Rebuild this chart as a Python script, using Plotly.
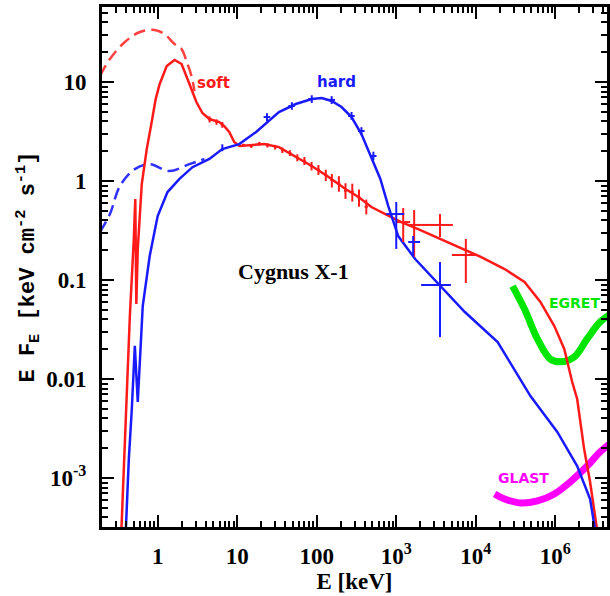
import plotly.graph_objects as go

# ---------------- data (E in keV, E*F_E in keV cm^-2 s^-1) ----------------
soft_E = [0.35, 0.376, 0.398, 0.447, 0.501, 0.523, 0.539, 0.562, 0.631, 0.729, 0.841, 0.944,
          1.06, 1.30, 1.63, 2.0, 2.51, 3.07, 3.65, 4.47, 5.96, 6.88, 7.94, 9.17, 10.6, 15.4,
          21.8, 33.5, 54.6, 86.6, 141, 230, 335, 487, 729, 1155, 1884, 4467, 11550, 23040,
          40970, 64940, 97170, 129600, 163100, 188400, 230400, 273800, 335000]
soft_F = [3.0e-4, 1.23e-3, 5.2e-3, 0.0433, 0.26, 0.658, 0.0573, 0.206, 0.933, 2.1, 3.94, 6.73,
          9.55, 14.5, 16.7, 15.2, 9.55, 6.28, 4.86, 4.23, 3.94, 3.59, 3.13, 2.48, 2.26, 2.31,
          2.36, 2.2, 1.75, 1.42, 1.1, 0.83, 0.69, 0.546, 0.464, 0.385, 0.327, 0.242, 0.171, 0.129,
          0.0955, 0.060, 0.0343, 0.0201, 9.33e-3, 6.28e-3, 1.96e-3, 9.1e-4, 3.0e-4]

soft_unabs_E = [0.188, 0.251, 0.387, 0.596, 0.917, 1.22, 1.63, 2.0, 2.30, 2.66, 2.90]
soft_unabs_F = [11.5, 17.1, 25.4, 32.0, 33.5, 30.5, 24.2, 21.5, 16.3, 11.5, 8.1]

hard_E = [0.398, 0.434, 0.473, 0.516, 0.562, 0.649, 0.794, 1.0, 1.33, 1.88, 2.74, 4.47, 6.49,
          10.6, 17.3, 23.0, 33.5, 54.6, 86.6, 115.5, 154, 205, 274, 365, 487, 631, 794, 1059,
          1728, 3548, 7286, 18840, 48700, 105900, 188400, 273800, 316200]
hard_F = [3.0e-4, 1.56e-3, 4.98e-3, 0.0216, 5.86e-3, 0.0546, 0.175, 0.443, 0.774, 1.05, 1.38,
          1.67, 2.1, 2.36, 3.13, 3.85, 4.98, 6.0, 6.73, 6.89, 6.43, 5.59, 4.43, 2.98, 1.75, 1.05,
          0.559, 0.278, 0.163, 0.0869, 0.0475, 0.0236, 6.73e-3, 2.92e-3, 1.32e-3, 6.14e-4, 3.0e-4]

hard_unabs_E = [0.188, 0.251, 0.335, 0.516, 0.794, 1.41, 2.51, 3.87]
hard_unabs_F = [0.305, 0.464, 0.89, 1.32, 1.48, 1.26, 1.48, 1.67]

# soft-state data points (E, F, E low/high, F low/high)
soft_pt_E = [4.5, 5.5, 6.5, 12, 15, 19, 24, 30, 37, 46, 57, 70, 86, 105, 130, 155, 190, 230, 280,
             340, 420, 1223, 1679, 3548, 7499]
soft_pt_F = [4.2, 3.95, 3.7, 2.30, 2.25, 2.38, 2.30, 2.20, 2.05, 1.92, 1.72, 1.60, 1.42, 1.30,
             1.15, 1.02, 0.95, 0.80, 0.78, 0.68, 0.55, 0.385, 0.36, 0.36, 0.179]
soft_pt_Elo = [4.3, 5.3, 6.2, 11.5, 14.4, 18.2, 23, 29, 35.5, 44, 55, 67, 82, 100, 124, 148, 182,
               220, 268, 325, 400, 1000, 1413, 2054, 5012]
soft_pt_Ehi = [4.7, 5.7, 6.8, 12.5, 15.6, 19.8, 25, 31, 38.5, 48, 59, 73, 90, 110, 136, 162, 198,
               240, 292, 355, 440, 1496, 2054, 5158, 10000]
soft_pt_Flo = [3.9, 3.7, 3.45, 2.22, 2.16, 2.27, 2.18, 2.08, 1.92, 1.79, 1.58, 1.45, 1.28, 1.15,
               1.0, 0.86, 0.78, 0.66, 0.62, 0.55, 0.46, 0.242, 0.171, 0.272, 0.0933]
soft_pt_Fhi = [4.5, 4.2, 3.95, 2.38, 2.34, 2.49, 2.42, 2.32, 2.18, 2.05, 1.86, 1.75, 1.56, 1.45,
               1.30, 1.18, 1.12, 0.95, 0.94, 0.82, 0.65, 0.533, 0.509, 0.464, 0.26]

# hard-state data points
hard_pt_E = [6.5, 23.7, 48.7, 86.6, 154, 274, 365, 516, 1000, 1631, 3548]
hard_pt_F = [2.1, 4.43, 5.72, 6.73, 6.6, 4.54, 3.2, 1.79, 0.464, 0.242, 0.0891]
hard_pt_Elo = [6.3, 21.5, 44, 78, 140, 248, 330, 470, 750, 1413, 2054]
hard_pt_Ehi = [6.7, 26, 53, 95, 170, 300, 400, 565, 1259, 1995, 4870]
hard_pt_Flo = [2.0, 4.05, 5.25, 6.15, 6.0, 4.15, 2.9, 1.62, 0.206, 0.171, 0.0265]
hard_pt_Fhi = [2.35, 4.85, 6.25, 7.35, 7.2, 4.98, 3.5, 1.98, 0.614, 0.278, 0.152]

egret_E = [29000, 41000, 59600, 86600, 115500, 172800, 251200, 365200, 516000]
egret_F = [0.0869, 0.0509, 0.0254, 0.0159, 0.0149, 0.0167, 0.0254, 0.0376, 0.0464]

glast_E = [17280, 23040, 36520, 59600, 97170, 154000, 251200, 365200, 516000]
glast_F = [6.9e-4, 6.14e-4, 5.59e-4, 5.86e-4, 6.9e-4, 9.12e-4, 1.32e-3, 1.83e-3, 2.31e-3]

x_tickvals = [1, 10, 100, 1e3, 1e4, 1e5]
x_ticktext = ["1", "10", "100", "10<sup>3</sup>", "10<sup>4</sup>", "10<sup>6</sup>"]
y_tickvals = [1e-3, 0.01, 0.1, 1, 10]
y_ticktext = ["10<sup>-3</sup>", "0.01", "0.1", "1", "10"]

RED = "#ff1a1a"
BLUE = "#1a1aff"

fig = go.Figure()

fig.add_trace(go.Scatter(x=soft_unabs_E, y=soft_unabs_F, mode="lines",
                         line=dict(color="#ff4040", width=2.5, dash="12px,6px", shape="spline")))
fig.add_trace(go.Scatter(x=hard_unabs_E, y=hard_unabs_F, mode="lines",
                         line=dict(color="#3030ff", width=2.5, dash="12px,6px", shape="spline")))
fig.add_trace(go.Scatter(x=egret_E, y=egret_F, mode="lines",
                         line=dict(color="#00e600", width=7, shape="spline")))
fig.add_trace(go.Scatter(x=glast_E, y=glast_F, mode="lines",
                         line=dict(color="#ff00ff", width=7, shape="spline")))
fig.add_trace(go.Scatter(x=soft_E, y=soft_F, mode="lines",
                         line=dict(color=RED, width=2.5)))
fig.add_trace(go.Scatter(x=hard_E, y=hard_F, mode="lines",
                         line=dict(color=BLUE, width=2.5)))


def err_trace(E, F, Elo, Ehi, Flo, Fhi, color):
    return go.Scatter(
        x=E, y=F, mode="markers", marker=dict(size=1, color=color),
        error_x=dict(type="data", symmetric=False,
                     array=[h - e for e, h in zip(E, Ehi)],
                     arrayminus=[e - l for e, l in zip(E, Elo)],
                     color=color, thickness=2, width=0),
        error_y=dict(type="data", symmetric=False,
                     array=[h - f for f, h in zip(F, Fhi)],
                     arrayminus=[f - l for f, l in zip(F, Flo)],
                     color=color, thickness=2, width=0),
    )


fig.add_trace(err_trace(soft_pt_E, soft_pt_F, soft_pt_Elo, soft_pt_Ehi, soft_pt_Flo, soft_pt_Fhi, RED))
fig.add_trace(err_trace(hard_pt_E, hard_pt_F, hard_pt_Elo, hard_pt_Ehi, hard_pt_Flo, hard_pt_Fhi, BLUE))

x_minor = [m * 10 ** d for d in range(-1, 6) for m in range(2, 10)]
y_minor = [m * 10 ** d for d in range(-4, 2) for m in range(2, 10)]

tickfont = dict(family="Liberation Serif", size=23, color="black", weight="bold")

fig.update_xaxes(
    type="log", range=[-0.7, 5.65], showgrid=False, zeroline=False,
    showline=True, linewidth=3, linecolor="black", mirror="ticks",
    ticks="inside", ticklen=12, tickwidth=2, tickcolor="black",
    tickvals=x_tickvals, ticktext=x_ticktext, tickfont=tickfont, ticklabelstandoff=6,
    minor=dict(ticks="inside", ticklen=6, tickwidth=2, tickcolor="black", tickvals=x_minor, showgrid=False),
    title=dict(text="E [keV]", font=tickfont, standoff=4),
)
fig.update_yaxes(
    type="log", range=[-3.495, 1.758], showgrid=False, zeroline=False,
    showline=True, linewidth=3, linecolor="black", mirror="ticks",
    ticks="inside", ticklen=12, tickwidth=2, tickcolor="black",
    tickvals=y_tickvals, ticktext=y_ticktext, tickfont=tickfont, ticklabelstandoff=8,
    minor=dict(ticks="inside", ticklen=6, tickwidth=2, tickcolor="black", tickvals=y_minor, showgrid=False),
    title=dict(text="E F<sub>E</sub> [keV cm<sup>-2</sup> s<sup>-1</sup>]",
               font=dict(family="Liberation Mono", size=22, color="black", weight="bold"), standoff=6),
)

lab = dict(family="DejaVu Sans", weight="bold")
fig.update_layout(
    width=610, height=596,
    margin=dict(l=102, r=0, t=7, b=69),
    paper_bgcolor="white", plot_bgcolor="white",
    showlegend=False,
    annotations=[
        dict(x=0.7, y=0.99, xref="x", yref="y", text="soft", showarrow=False,
             font=dict(color=RED, size=15, **lab)),
        dict(x=2.25, y=1.0, xref="x", yref="y", text="hard", showarrow=False,
             font=dict(color=BLUE, size=15, **lab)),
        dict(x=1.7125, y=-0.909, xref="x", yref="y", text="Cygnus X-1", showarrow=False,
             font=dict(color="black", size=22, family="Liberation Serif", weight="bold")),
        dict(x=5.2375, y=-1.232, xref="x", yref="y", text="EGRET", showarrow=False,
             font=dict(color="#00e600", size=14, **lab)),
        dict(x=4.6, y=-3.0, xref="x", yref="y", text="GLAST", showarrow=False,
             font=dict(color="#ff00ff", size=14, **lab)),
    ],
)

fig.write_html("out.html")
